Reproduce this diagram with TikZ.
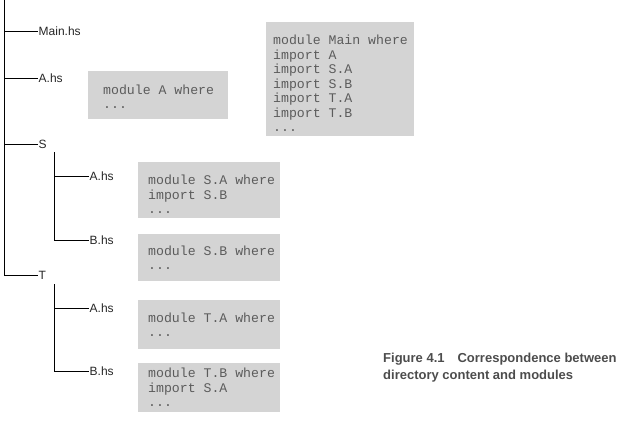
\documentclass[tikz,border=0pt]{standalone}
\usepackage{fontspec}
\newfontfamily\codefont[WordSpace={1,0,0}]{Liberation Mono}
\newfontfamily\labelfont{Liberation Sans}
\usetikzlibrary{positioning}
\definecolor{boxgray}{rgb}{0.83, 0.83, 0.83}
\definecolor{codegray}{rgb}{0.36, 0.36, 0.36}
\definecolor{captiongray}{rgb}{0.30, 0.30, 0.30}
\tikzstyle{treeline}=[draw=black, line width=0.8pt]
\tikzstyle{dirlabel}=[anchor=west, inner sep=1pt, font=\labelfont\fontsize{12}{14}\selectfont, text=black!85]
\tikzstyle{codebox}=[anchor=north west, fill=boxgray, inner sep=0pt]
\tikzstyle{codetext}=[align=left, inner sep=0pt, text=codegray, font=\codefont\fontsize{13.2}{14.5}\selectfont]
\tikzstyle{caption}=[anchor=north west, align=left, inner sep=0pt, text=captiongray, font=\labelfont\bfseries\fontsize{13}{17}\selectfont]

\begin{document}
\begin{tikzpicture}[x=1pt, y=-1pt]
\useasboundingbox (0,0) rectangle (624,421);

\coordinate (root) at (4,0);
\node[dirlabel](mainHs) at (37.5,31){Main.hs};
\node[dirlabel](aHs) at (37.5,78){A.hs};
\node[dirlabel](sDir) at (37.5,144){S};
\node[dirlabel](tDir) at (37.5,275){T};

\coordinate (sRoot) at (54,152);
\node[dirlabel](saHs) at (88.5,176){A.hs};
\node[dirlabel](sbHs) at (88.5,240){B.hs};

\coordinate (tRoot) at (54,284);
\node[dirlabel](taHs) at (88.5,308){A.hs};
\node[dirlabel](tbHs) at (88.5,371){B.hs};

\node[codebox, minimum width=148pt, minimum height=114pt](mainBox) at (266,22){};
\node[codebox, minimum width=140pt, minimum height=48pt](aBox) at (88,71){};
\node[codebox, minimum width=142pt, minimum height=56pt](saBox) at (138,162){};
\node[codebox, minimum width=142pt, minimum height=47pt](sbBox) at (138,234){};
\node[codebox, minimum width=142pt, minimum height=49pt](taBox) at (138,300){};
\node[codebox, minimum width=142pt, minimum height=49pt](tbBox) at (138,363){};

\node[codetext, right=7pt of mainBox.west, yshift=-4.5pt](mainCode){module Main where\\import A\\import S.A\\import S.B\\import T.A\\import T.B\\...};
\node[codetext, right=15pt of aBox.west, yshift=-1.5pt](aCode){module A where\\...};
\node[codetext, right=10pt of saBox.west, yshift=-4.5pt](saCode){module S.A where\\import S.B\\...};
\node[codetext, right=10pt of sbBox.west](sbCode){module S.B where\\...};
\node[codetext, right=10pt of taBox.west](taCode){module T.A where\\...};
\node[codetext, right=10pt of tbBox.west](tbCode){module T.B where\\import S.A\\...};

\node[caption](figCaption) at (383,353){Figure 4.1\hspace{1em}Correspondence between\\directory content and modules};

\path[treeline] (root) |- (tDir.west);
\path[treeline] (root |- mainHs) -- (mainHs.west);
\path[treeline] (root |- aHs) -- (aHs.west);
\path[treeline] (root |- sDir) -- (sDir.west);
\path[treeline] (sRoot) |- (sbHs.west);
\path[treeline] (sRoot |- saHs) -- (saHs.west);
\path[treeline] (tRoot) |- (tbHs.west);
\path[treeline] (tRoot |- taHs) -- (taHs.west);

\end{tikzpicture}
\end{document}
